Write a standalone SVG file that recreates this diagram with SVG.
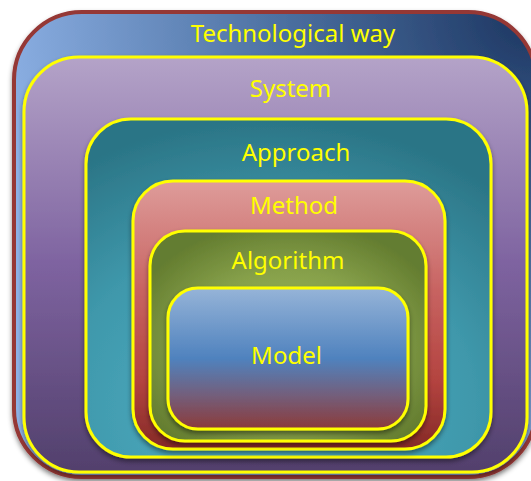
<svg xmlns="http://www.w3.org/2000/svg" width="531" height="481" viewBox="0 0 531 481">
<style>
.box{stroke:#FFFF00;stroke-width:3}
.lbl{font-family:"Noto Sans","Open Sans",sans-serif;fill:#FFFF00;text-anchor:middle}
</style>
<defs>
<radialGradient id="gOuter" cx="1" cy="0" r="1.05">
<stop offset="0" stop-color="#1C3560"/>
<stop offset="0.45" stop-color="#4A6E9F"/>
<stop offset="1" stop-color="#8EB2E6"/>
</radialGradient>
<linearGradient id="gSystem" x1="0" y1="0" x2="0" y2="1">
<stop offset="0" stop-color="#B4A3C8"/>
<stop offset="0.5" stop-color="#7E63A0"/>
<stop offset="1" stop-color="#52406C"/>
</linearGradient>
<radialGradient id="gApproach" cx="0.45" cy="0.85" r="0.85">
<stop offset="0" stop-color="#52B2C8"/>
<stop offset="0.6" stop-color="#3F98AB"/>
<stop offset="1" stop-color="#2B7586"/>
</radialGradient>
<linearGradient id="gMethod" x1="0" y1="0" x2="0" y2="1">
<stop offset="0" stop-color="#DE9C9A"/>
<stop offset="0.4" stop-color="#C86462"/>
<stop offset="0.75" stop-color="#B3433F"/>
<stop offset="1" stop-color="#852A27"/>
</linearGradient>
<radialGradient id="gAlgo" cx="0.5" cy="0.55" r="0.6">
<stop offset="0" stop-color="#A3C062"/>
<stop offset="0.6" stop-color="#86A04A"/>
<stop offset="1" stop-color="#647D30"/>
</radialGradient>
<linearGradient id="gModel" x1="0" y1="0" x2="0" y2="1">
<stop offset="0" stop-color="#96B4D8"/>
<stop offset="0.5" stop-color="#4F82BE"/>
<stop offset="0.75" stop-color="#72607E"/>
<stop offset="1" stop-color="#8C3A3A"/>
</linearGradient>
<filter id="sh" x="-10%" y="-10%" width="120%" height="125%">
<feDropShadow dx="0" dy="3" stdDeviation="2.5" flood-color="#000" flood-opacity="0.45"/>
</filter>
</defs>
<g id="technological-way">
<rect x="14" y="12" width="522" height="465" rx="68" fill="url(#gOuter)" stroke="#953735" stroke-width="4" filter="url(#sh)"/>
<text class="lbl" x="293" y="42" font-size="24">Technological way</text>
</g>
<g id="system">
<rect x="24" y="57" width="503" height="415" rx="55" fill="url(#gSystem)" class="box" filter="url(#sh)"/>
<text class="lbl" x="290.5" y="97" font-size="24">System</text>
</g>
<g id="approach">
<rect x="86" y="119" width="405" height="338" rx="45" fill="url(#gApproach)" class="box" filter="url(#sh)"/>
<text class="lbl" x="296" y="161" font-size="24">Approach</text>
</g>
<g id="method">
<rect x="133" y="181" width="312" height="268" rx="40" fill="url(#gMethod)" class="box" filter="url(#sh)"/>
<text class="lbl" x="294" y="214" font-size="24">Method</text>
</g>
<g id="algorithm">
<rect x="150" y="231" width="276" height="210" rx="35" fill="url(#gAlgo)" class="box" filter="url(#sh)"/>
<text class="lbl" x="288" y="269" font-size="24">Algorithm</text>
</g>
<g id="model">
<rect x="168" y="288" width="240" height="141" rx="30" fill="url(#gModel)" class="box" filter="url(#sh)"/>
<text class="lbl" x="286.5" y="364" font-size="24">Model</text>
</g>
<g id="connectors"/>
</svg>
